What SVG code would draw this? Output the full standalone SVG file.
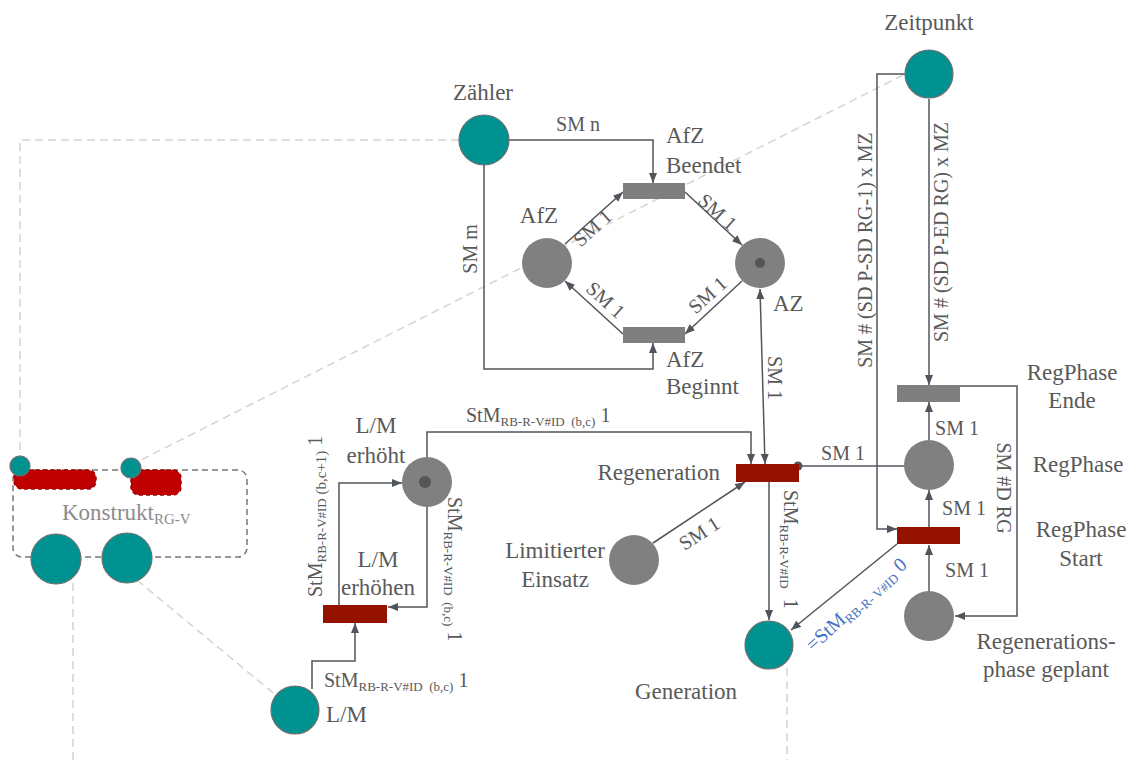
<svg xmlns="http://www.w3.org/2000/svg" width="1135" height="760" viewBox="0 0 1135 760">
<style>
text{font-family:"Liberation Serif","Times New Roman",serif;fill:#595959}
.n{font-size:23px}
.a{font-size:20px}
.s{font-size:13px}
.arc{fill:none;stroke:#50555c;stroke-width:1.5}
.ar{marker-end:url(#ah)}
.guide{fill:none;stroke:#d4d4d4;stroke-width:1.5;stroke-dasharray:8 5}
.teal{fill:#009191;stroke:#6f6f6f;stroke-width:1.2}
.pl{fill:#808080}
.tr{fill:#7f7f7f}
.rt{fill:#941100}
.tok{fill:#555555}
.blue{fill:#4472c4}
.kred{fill:#c00000;stroke:#a00000;stroke-width:1.5;stroke-dasharray:4 3}
</style>
<defs>
<marker id="ah" markerWidth="11" markerHeight="9" refX="10" refY="4.5" orient="auto-start-reverse" markerUnits="userSpaceOnUse"><path d="M0,0.5 L10,4.5 L0,8.5 z" fill="#50555c"/></marker>
</defs>
<rect width="1135" height="760" fill="#ffffff"/>

<g id="guides">
<path class="guide" d="M459,140 H20 V456"/>
<path class="guide" d="M903,75 L139,461"/>
<path class="guide" d="M73,583 V760"/>
<path class="guide" d="M137,580 L278,697"/>
<path class="guide" d="M787,668 V760"/>
</g>

<g id="connectors">
<path class="arc ar" d="M509,140 H653 V183"/>
<path class="arc ar" d="M484,165 V369 H653 V343"/>
<path class="arc ar" d="M565,244 L623,192"/>
<path class="arc ar" d="M685,192 L742,245"/>
<path class="arc ar" d="M742,281 L685,334"/>
<path class="arc ar" d="M623,334 L565,281"/>
<path class="arc ar" d="M760,289 L765,464" marker-start="url(#ah)"/>
<path class="arc ar" d="M427,457 V432 H751 V464"/>
<path class="arc ar" d="M653,543 L745,482"/>
<path class="arc ar" d="M769,482 V620"/>
<path class="arc" d="M905,466 H798"/>
<circle cx="798" cy="466" r="4.5" fill="#50555c"/>
<path class="arc ar" d="M897,544 L791,630"/>
<path class="arc ar" d="M929,99 V385"/>
<path class="arc ar" d="M905,74 H877 V529 H897"/>
<path class="arc ar" d="M929,440 V402"/>
<path class="arc ar" d="M929,527 V490"/>
<path class="arc ar" d="M929,591 V545"/>
<path class="arc ar" d="M960,386 H1017 V616 H955"/>
<path class="arc ar" d="M339,606 V483 H402"/>
<path class="arc ar" d="M427,507 V607 H388"/>
<path class="arc ar" d="M312,689 V661 H355 V623"/>

<text class="a" x="578" y="131" text-anchor="middle">SM n</text>
<text class="a" transform="translate(477,249) rotate(-90)" text-anchor="middle">SM m</text>
<text class="a" transform="translate(597,233) rotate(-42)" text-anchor="middle">SM 1</text>
<text class="a" transform="translate(713,217) rotate(42)" text-anchor="middle">SM 1</text>
<text class="a" transform="translate(712,300) rotate(-42)" text-anchor="middle">SM 1</text>
<text class="a" transform="translate(601,305) rotate(42)" text-anchor="middle">SM 1</text>
<text class="a" transform="translate(768,378) rotate(90)" text-anchor="middle">SM 1</text>
<text class="a" x="466" y="422">StM<tspan class="s" dy="4">RB-R-V#ID&#160;&#160;(b,c)</tspan><tspan dy="-4">&#160;1</tspan></text>
<text class="a" transform="translate(703,539) rotate(-33)" text-anchor="middle">SM 1</text>
<text class="a" transform="translate(784,490) rotate(90)">StM<tspan class="s" dy="4">RB-R-V#ID</tspan><tspan dy="-4">&#160;&#160;1</tspan></text>
<text class="a" x="843" y="460" text-anchor="middle">SM 1</text>
<text class="a blue" transform="translate(813,652) rotate(-42)">=StM<tspan class="s blue" dy="4">RB-R- V#ID</tspan><tspan class="blue" dy="-4">&#160;0</tspan></text>
<text class="a" transform="translate(872,250) rotate(-90)" text-anchor="middle">SM # (SD P-SD RG-1) x MZ</text>
<text class="a" transform="translate(948,232) rotate(-90)" text-anchor="middle">SM # (SD P-ED RG) x MZ</text>
<text class="a" x="957" y="435" text-anchor="middle">SM 1</text>
<text class="a" x="964" y="515" text-anchor="middle">SM 1</text>
<text class="a" x="967" y="577" text-anchor="middle">SM 1</text>
<text class="a" transform="translate(997,488) rotate(90)" text-anchor="middle">SM #D RG</text>
<text class="a" transform="translate(322,597) rotate(-90)">StM<tspan class="s" dy="4">RB-R-V#ID</tspan><tspan style="font-size:15px">&#160;(b,c+1)</tspan><tspan dy="-4">&#160;1</tspan></text>
<text class="a" transform="translate(448,497) rotate(90)">StM<tspan class="s" dy="4">RB-R-V#ID&#160;&#160;(b,c)</tspan><tspan dy="-4">&#160;1</tspan></text>
<text class="a" x="324" y="687">StM<tspan class="s" dy="4">RB-R-V#ID&#160;&#160;(b,c)</tspan><tspan dy="-4">&#160;1</tspan></text>
</g>

<g id="zaehler">
<circle class="teal" cx="484" cy="140" r="25"/>
<text class="n" x="483" y="100" text-anchor="middle">Zähler</text>
</g>
<g id="zeitpunkt">
<circle class="teal" cx="929" cy="74" r="24"/>
<text class="n" x="929" y="30" text-anchor="middle">Zeitpunkt</text>
</g>
<g id="afz">
<circle class="pl" cx="547" cy="263" r="25"/>
<text class="n" x="539" y="223" text-anchor="middle">AfZ</text>
</g>
<g id="az">
<circle class="pl" cx="760" cy="263" r="25"/>
<circle class="tok" cx="760" cy="263" r="5"/>
<text class="n" x="773" y="311">AZ</text>
</g>
<g id="afz-beendet">
<rect class="tr" x="623" y="183" width="62" height="16"/>
<text class="n" x="666" y="143">AfZ</text>
<text class="n" x="666" y="173">Beendet</text>
</g>
<g id="afz-beginnt">
<rect class="tr" x="623" y="327" width="62" height="16"/>
<text class="n" x="666" y="367">AfZ</text>
<text class="n" x="666" y="394">Beginnt</text>
</g>
<g id="regeneration">
<rect class="rt" x="736" y="464" width="63" height="18"/>
<text class="n" x="720" y="480" text-anchor="end">Regeneration</text>
</g>
<g id="limitierter-einsatz">
<circle class="pl" cx="634" cy="560" r="25"/>
<text class="n" x="555" y="558" text-anchor="middle">Limitierter</text>
<text class="n" x="555" y="587" text-anchor="middle">Einsatz</text>
</g>
<g id="generation">
<circle class="teal" cx="769" cy="645" r="24"/>
<text class="n" x="686" y="699" text-anchor="middle">Generation</text>
</g>
<g id="lm-erhoeht">
<circle class="pl" cx="427" cy="482" r="25"/>
<circle class="tok" cx="425" cy="482" r="6"/>
<text class="n" x="376" y="433" text-anchor="middle">L/M</text>
<text class="n" x="376" y="463" text-anchor="middle">erhöht</text>
</g>
<g id="lm-erhoehen">
<rect class="rt" x="323" y="605" width="64" height="18"/>
<text class="n" x="378" y="567" text-anchor="middle">L/M</text>
<text class="n" x="378" y="595" text-anchor="middle">erhöhen</text>
</g>
<g id="lm">
<circle class="teal" cx="295" cy="710" r="24"/>
<text class="n" x="326" y="722">L/M</text>
</g>
<g id="regphase-ende">
<rect class="tr" x="897" y="385" width="63" height="17"/>
<text class="n" x="1072" y="380" text-anchor="middle">RegPhase</text>
<text class="n" x="1072" y="408" text-anchor="middle">Ende</text>
</g>
<g id="regphase">
<circle class="pl" cx="929" cy="465" r="25"/>
<text class="n" x="1078" y="472" text-anchor="middle">RegPhase</text>
</g>
<g id="regphase-start">
<rect class="rt" x="897" y="527" width="63" height="17"/>
<text class="n" x="1081" y="537" text-anchor="middle">RegPhase</text>
<text class="n" x="1081" y="566" text-anchor="middle">Start</text>
</g>
<g id="regphase-geplant">
<circle class="pl" cx="929" cy="616" r="25"/>
<text class="n" x="1046" y="649" text-anchor="middle">Regenerations-</text>
<text class="n" x="1046" y="677" text-anchor="middle">phase geplant</text>
</g>
<g id="konstrukt">
<rect x="13" y="470" width="234" height="87" rx="9" fill="none" stroke="#777777" stroke-width="1.5" stroke-dasharray="6 4"/>
<rect class="kred" x="14" y="470" width="82" height="19" rx="8"/>
<rect class="kred" x="131" y="470" width="50" height="25" rx="8"/>
<circle class="teal" cx="20" cy="466" r="10"/>
<circle class="teal" cx="131" cy="468" r="10"/>
<circle class="teal" cx="56" cy="559" r="25"/>
<circle class="teal" cx="127" cy="558" r="25"/>
<text class="n" x="62" y="520" style="fill:#8c8c8c">Konstrukt<tspan dy="4" style="font-size:15px;fill:#8c8c8c">RG-V</tspan></text>
</g>
</svg>
